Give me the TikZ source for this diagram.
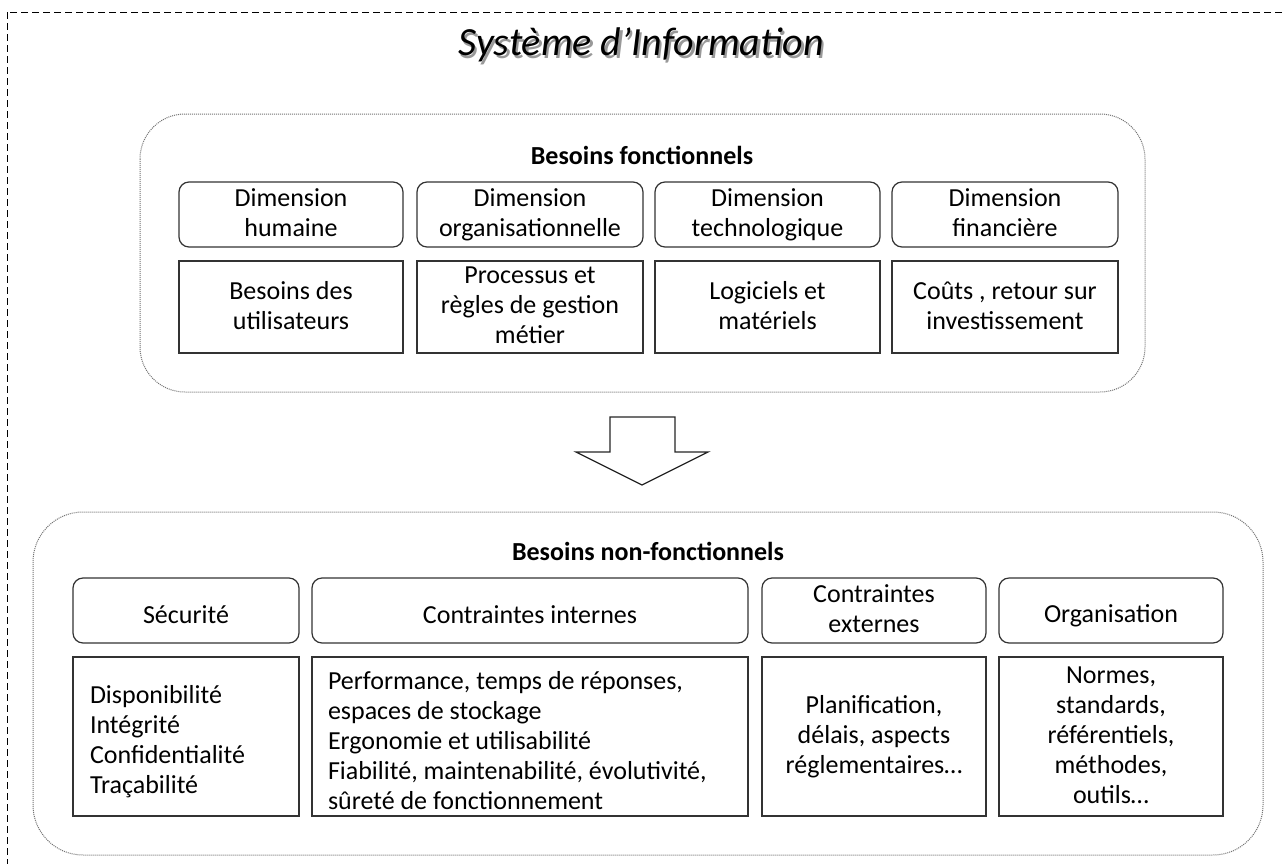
\documentclass[tikz,border=0pt]{standalone}
\usepackage{fontspec}
\setmainfont{Carlito}
\newcommand{\fsbody}{\fontsize{26}{30}\selectfont}
\newcommand{\fstitle}{\fontsize{40}{46}\selectfont\itshape}
\newcommand{\topstrut}{\rule{0pt}{29pt}}
\newcommand{\botstrut}{\rule[-3pt]{0pt}{3pt}}
\begin{document}
\begin{tikzpicture}[x=1pt,y=-1pt,
  box/.style={draw=black!80, line width=1.2pt, fill=white, inner sep=0pt, align=center, font=\fsbody,
    execute at begin node=\topstrut, execute at end node=\botstrut},
  rbox/.style={box, rounded corners=10pt},
  cont/.style={draw=black!55, line width=1pt, dash pattern=on 1pt off 1pt, rounded corners=45pt},
  frame/.style={draw=black, line width=1pt, dash pattern=on 7pt off 4pt},
  heading/.style={font=\fsbody\bfseries, inner sep=0pt},
  blockarrow/.style={draw=black!85, line width=1.3pt, fill=white, line join=miter}]
\useasboundingbox (0,0) rectangle (1286,863);
\clip (0,0) rectangle (1286,863);
\fill[white] (0,0) rectangle (1286,863);
\draw[frame] (7,12) rectangle (1300,880);
% title with shadow
\node[font=\fstitle, text=black!40, inner sep=0pt] (titleshadow) at (643.5,47.5) {Système d’Information};
\node[font=\fstitle, inner sep=0pt] (title) at (641,45) {Système d’Information};
% upper container
\draw[cont] (140,114) rectangle (1145,392);
\node[heading] (hf) at (642,155) {Besoins fonctionnels};
\node[rbox, minimum width=224, minimum height=65] (d1) at (291,214.5) {Dimension\\humaine};
\node[rbox, minimum width=226, minimum height=65] (d2) at (530,214.5) {Dimension\\organisationnelle};
\node[rbox, minimum width=225, minimum height=65] (d3) at (767.5,214.5) {Dimension\\technologique};
\node[rbox, minimum width=226, minimum height=65] (d4) at (1005,214.5) {Dimension\\financière};
\node[box, minimum width=224, minimum height=92] (b1) at (291,307) {Besoins des\\utilisateurs};
\node[box, minimum width=226, minimum height=92] (b2) at (530,307) {Processus et\\règles de gestion\\métier};
\node[box, minimum width=225, minimum height=92] (b3) at (767.5,307) {Logiciels et\\matériels};
\node[box, minimum width=226, minimum height=92] (b4) at (1005,307) {Coûts , retour sur\\investissement};
% block arrow
\draw[blockarrow] (610,417) -- (675,417) -- (675,452) -- (708,452) -- (642,485) -- (576,452) -- (610,452) -- cycle;
% lower container
\draw[cont, rounded corners=50pt] (33,512) rectangle (1263,855);
\node[heading] (hnf) at (648,551) {Besoins non-fonctionnels};
\node[rbox, minimum width=226, minimum height=65] (n1) at (186,610.5) {Sécurité};
\node[rbox, minimum width=436, minimum height=65] (n2) at (530,610.5) {Contraintes internes};
\node[rbox, minimum width=224, minimum height=65] (n3) at (874,610.5) {Contraintes\\externes};
\node[rbox, minimum width=224, minimum height=65] (n4) at (1111,610.5) {Organisation};
\node[box, align=flush left, text width=192, minimum width=226, minimum height=159] (m1) at (186,736.5) {Disponibilité\\Intégrité\\Confidentialité\\Traçabilité};
\node[box, align=flush left, text width=404, minimum width=436, minimum height=159] (m2) at (530,736.5) {Performance, temps de réponses,\\espaces de stockage\\Ergonomie et utilisabilité\\Fiabilité, maintenabilité, évolutivité,\\sûreté de fonctionnement};
\node[box, minimum width=224, minimum height=159] (m3) at (874,736.5) {Planification,\\délais, aspects\\réglementaires…};
\node[box, minimum width=224, minimum height=159] (m4) at (1111,736.5) {Normes,\\standards,\\référentiels,\\méthodes,\\outils…};
\end{tikzpicture}
\end{document}
